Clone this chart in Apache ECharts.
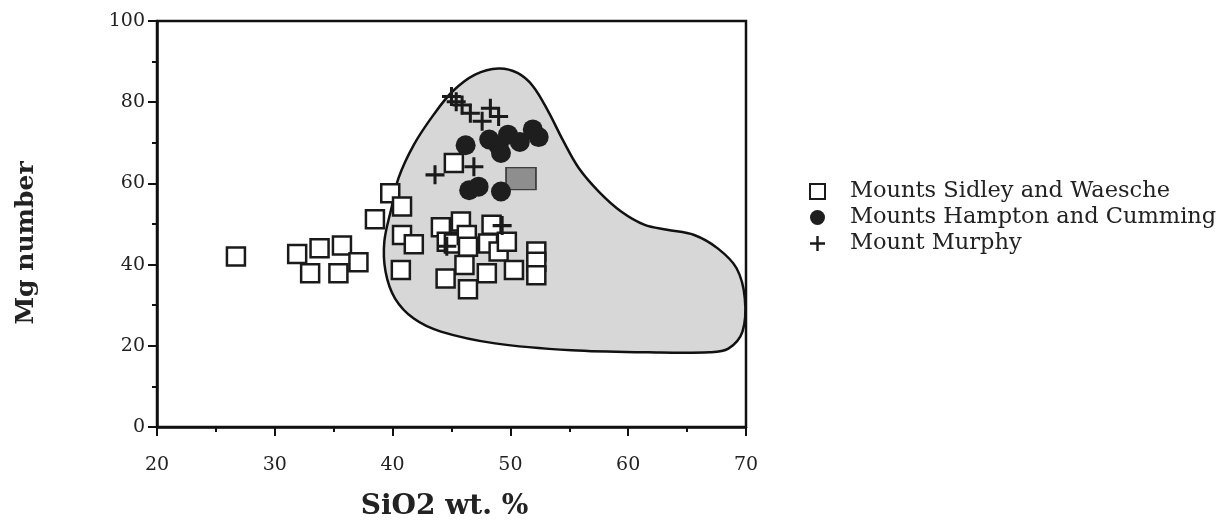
<!DOCTYPE html>
<html>
<head>
<meta charset="utf-8">
<script src="https://cdn.jsdelivr.net/npm/echarts@6/dist/echarts.min.js"></script>
<style>
html,body{margin:0;padding:0;background:#fff;}
#chart{width:1231px;height:520px;}
</style>
</head>
<body>
<div id="chart"></div>
<script>
// ---- data ----
const seriesNames = ['Mounts Sidley and Waesche', 'Mounts Hampton and Cumming', 'Mount Murphy'];

const sidleySiO2 = [26.7, 31.9, 33.8, 33.0, 35.7, 35.4, 37.1, 38.5, 39.8, 40.8, 40.8, 41.8, 40.7, 45.2,
  44.1, 45.8, 48.4, 44.6, 45.2, 46.3, 46.4, 48.1, 49.0, 49.7, 46.1, 48.0, 50.3, 44.5, 46.4, 52.2, 52.2, 52.2];
const sidleyMg = [42.0, 42.6, 44.0, 37.9, 44.7, 37.9, 40.6, 51.2, 57.6, 54.3, 47.3, 45.0, 38.7, 65.0,
  49.2, 50.6, 49.8, 45.6, 45.2, 47.3, 44.4, 45.2, 43.2, 45.6, 39.9, 37.9, 38.7, 36.6, 33.9, 43.2, 40.7, 37.4];

const hamptonSiO2 = [46.2, 48.2, 49.0, 49.2, 49.8, 50.8, 51.9, 52.4, 46.5, 47.3, 49.2];
const hamptonMg   = [69.4, 70.8, 69.3, 67.5, 72.0, 70.2, 73.3, 71.4, 58.3, 59.2, 58.0];

const murphySiO2 = [45.0, 45.4, 45.9, 46.6, 47.6, 48.3, 49.0, 43.6, 46.9, 49.3, 44.6];
const murphyMg   = [81.4, 80.1, 79.3, 77.3, 75.3, 78.5, 76.5, 62.1, 64.1, 49.6, 44.5];

// stippled box
const boxSiO2 = [50.9];
const boxMg = [61.2];

// shaded field outline
const fieldSiO2 = [49.0, 50.6, 51.9, 53.2, 54.5, 55.8, 57.5, 59.4, 61.4, 63.3, 65.6, 67.6, 69.2, 69.9, 69.7, 68.5, 66.9, 61.7, 55.2, 48.7, 44.1, 41.8, 40.2, 39.4, 39.3, 39.9, 40.5, 41.8, 43.5, 45.1, 47.0];
const fieldMg   = [88.3, 87.2, 84.0, 77.8, 70.4, 63.8, 58.0, 53.1, 49.8, 48.6, 47.3, 44.0, 39.1, 31.7, 23.5, 19.3, 18.4, 18.4, 18.9, 20.6, 23.5, 26.7, 31.7, 38.3, 45.7, 53.9, 61.3, 69.5, 77.0, 82.7, 86.8];

const xTicks = {min: 20, max: 70, interval: 10};
const yTicks = {min: 0, max: 100, interval: 20};

// ---- chart ----
const zip = (a, b) => a.map((v, i) => [v, b[i]]);
const SERIF = '"DejaVu Serif", "Liberation Serif", serif';
const crossPath = 'path://M4.2,0 H5.8 V4.2 H10 V5.8 H5.8 V10 H4.2 V5.8 H0 V4.2 H4.2 Z';

const chart = echarts.init(document.getElementById('chart'), null, {renderer: 'canvas'});
chart.setOption({
  backgroundColor: '#fff',
  animation: false,
  grid: {left: 157, right: 485, top: 21, bottom: 93, show: true, borderColor: '#111', borderWidth: 2.5,
    containLabel: false, outerBoundsMode: 'none'},
  xAxis: {
    type: 'value', min: xTicks.min, max: xTicks.max, interval: xTicks.interval,
    name: 'SiO2 wt. %', nameLocation: 'middle', nameGap: 66,
    nameTextStyle: {fontFamily: SERIF, fontWeight: 'bold', fontSize: 28, color: '#222', padding: [0, 14, 0, 0]},
    axisLine: {show: true, lineStyle: {color: '#111', width: 2.5}},
    axisTick: {show: true, length: 9, inside: false, lineStyle: {color: '#111', width: 2}},
    minorTick: {show: true, splitNumber: 2, length: 5, lineStyle: {color: '#111', width: 2}},
    axisLabel: {fontFamily: SERIF, fontSize: 19, color: '#222', margin: 29},
    splitLine: {show: false}
  },
  yAxis: {
    type: 'value', min: yTicks.min, max: yTicks.max, interval: yTicks.interval,
    name: 'Mg number', nameLocation: 'middle', nameGap: 118, nameRotate: 90,
    nameTextStyle: {fontFamily: SERIF, fontWeight: 'bold', fontSize: 25, color: '#222', padding: [0, 38, 0, 0]},
    axisLine: {show: true, lineStyle: {color: '#111', width: 2.5}},
    axisTick: {show: true, length: 9, lineStyle: {color: '#111', width: 2}},
    minorTick: {show: true, splitNumber: 2, length: 5, lineStyle: {color: '#111', width: 2}},
    axisLabel: {fontFamily: SERIF, fontSize: 19, color: '#222', margin: 12},
    splitLine: {show: false}
  },
  legend: {
    orient: 'vertical', left: 804, top: 175, itemGap: 3, itemWidth: 15, itemHeight: 15,
    data: seriesNames,
    textStyle: {fontFamily: SERIF, fontSize: 22.5, color: '#222', padding: [0, 0, 0, 20], lineHeight: 22}
  },
  series: [
    {
      type: 'custom', name: 'field', silent: true, z: 1,
      data: [[fieldSiO2[0], fieldMg[0]]],
      renderItem: function (params, api) {
        const pts = fieldSiO2.map((x, i) => api.coord([x, fieldMg[i]]));
        return {
          type: 'polygon',
          shape: {points: pts, smooth: 0.35},
          style: {fill: '#d7d7d7', stroke: '#111', lineWidth: 2.5}
        };
      }
    },
    {
      type: 'scatter', name: 'box', z: 2,
      data: zip(boxSiO2, boxMg), symbol: 'rect', symbolSize: [30, 22],
      itemStyle: {color: '#7c7c7c', borderColor: '#222', borderWidth: 1.5}
    },
    {
      type: 'scatter', name: seriesNames[0], z: 3,
      data: zip(sidleySiO2, sidleyMg), symbol: 'rect', symbolSize: 18,
      itemStyle: {color: '#fff', borderColor: '#1a1a1a', borderWidth: 2.5, opacity: 1}
    },
    {
      type: 'scatter', name: seriesNames[1], z: 4,
      data: zip(hamptonSiO2, hamptonMg), symbol: 'circle', symbolSize: 20,
      itemStyle: {color: '#1e1e1e', opacity: 1}
    },
    {
      type: 'scatter', name: seriesNames[2], z: 5,
      data: zip(murphySiO2, murphyMg), symbol: crossPath, symbolSize: 19,
      itemStyle: {color: '#1a1a1a', opacity: 1}
    }
  ]
});
</script>
</body>
</html>
